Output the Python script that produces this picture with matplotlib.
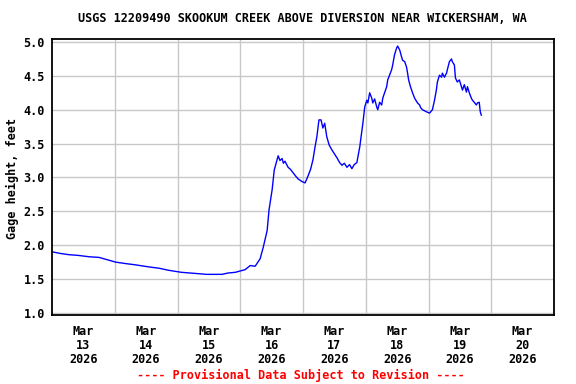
import pandas as pd
import numpy as np
import matplotlib
matplotlib.use('Agg')
import matplotlib.pyplot as plt

# gage height readings, hours after 2026-03-13 00:00
hours = [0.4, 3, 6.5, 10, 14.1, 18, 21.7, 24.4, 28, 32, 37, 41, 44.6, 49.5, 53, 56, 59,
         62.5, 65, 67.4, 70.1, 72, 73.9, 75.8, 77.7, 79.6, 80.8, 82.3, 83.0, 84.2, 85.0,
         86.1, 86.5, 87.2, 88.0, 88.5, 89.1, 90.3, 91.2, 92.2, 93.2, 94.1, 95.6, 96.8,
         97.9, 98.9, 99.8, 100.6, 101.3, 102.1, 102.9, 103.6, 104.3, 105.1, 106.0, 107.0,
         108.0, 109.0, 110.0, 110.9, 111.8, 112.8, 113.8, 114.7, 115.6, 116.6, 117.7,
         118.9, 119.6, 120.4, 120.8, 121.5, 122.3, 122.7, 123.4, 124.2, 124.6, 125.3,
         126.1, 126.5, 127.2, 128.0, 128.4, 129.1, 129.9, 130.3, 131.0, 131.8, 132.2,
         133.0, 133.7, 134.1, 134.9, 135.6, 136.0, 136.4, 137.1, 137.9, 138.7, 139.8,
         140.6, 141.0, 141.7, 143.2, 144.4, 145.5, 146.3, 147.0, 147.4, 148.2, 149.0,
         149.3, 150.1, 150.9, 151.2, 152.0, 152.8, 153.1, 153.9, 154.3, 155.0, 155.8,
         156.6, 157.0, 157.7, 158.5, 158.9, 159.6, 160.4, 160.8, 161.5, 162.3, 162.7,
         163.4, 163.8, 164.2]
gage_ft = [1.90, 1.88, 1.86, 1.85, 1.83, 1.82, 1.78, 1.75, 1.73, 1.71, 1.68, 1.66, 1.63,
           1.60, 1.59, 1.58, 1.57, 1.57, 1.57, 1.59, 1.60, 1.62, 1.64, 1.70, 1.69, 1.80,
           1.97, 2.22, 2.52, 2.82, 3.11, 3.26, 3.32, 3.25, 3.28, 3.21, 3.24, 3.15, 3.12,
           3.07, 3.02, 2.98, 2.94, 2.92, 3.02, 3.12, 3.26, 3.45, 3.60, 3.85, 3.85, 3.73,
           3.80, 3.60, 3.48, 3.41, 3.35, 3.29, 3.22, 3.18, 3.21, 3.15, 3.19, 3.13, 3.19,
           3.22, 3.45, 3.80, 4.04, 4.14, 4.10, 4.25, 4.17, 4.10, 4.16, 4.04, 4.00, 4.11,
           4.07, 4.17, 4.25, 4.34, 4.44, 4.51, 4.59, 4.66, 4.81, 4.91, 4.94, 4.88, 4.78,
           4.73, 4.71, 4.63, 4.54, 4.44, 4.34, 4.25, 4.17, 4.10, 4.07, 4.03, 4.00, 3.97,
           3.95, 4.00, 4.14, 4.29, 4.41, 4.51, 4.48, 4.54, 4.48, 4.54, 4.59, 4.71, 4.75,
           4.71, 4.66, 4.47, 4.41, 4.44, 4.34, 4.29, 4.37, 4.26, 4.34, 4.25, 4.17, 4.14,
           4.11, 4.07, 4.10, 4.11, 3.97, 3.92]

title = 'USGS 12209490 SKOOKUM CREEK ABOVE DIVERSION NEAR WICKERSHAM, WA'
footer = '---- Provisional Data Subject to Revision ----'
days = pd.date_range('2026-03-13', '2026-03-20', freq='D')

start = pd.Timestamp('2026-03-13')
times = start + pd.to_timedelta(hours, unit='h')

font = {'family': 'DejaVu Sans Mono', 'weight': 'bold', 'size': 8.5}

fig = plt.figure(figsize=(5.76, 3.84), dpi=100)
ax = fig.add_axes([52 / 576, 69 / 384, 502 / 576, 276 / 384])

ax.plot(times, gage_ft, color='#0000ff', linewidth=1.0)

ax.set_xlim(start, start + pd.Timedelta(days=8))
ax.set_ylim(0.97, 5.044)

# labels at noon, grid lines at midnight
ax.set_xticks(days + pd.Timedelta(hours=12))
ax.set_xticklabels([f"{d.strftime('%b')}\n{d.day}\n{d.year}" for d in days], fontdict=font,
                   linespacing=1.1)
ax.set_xticks(pd.date_range('2026-03-14', '2026-03-20', freq='D'), minor=True)
ax.set_yticks(np.arange(1.0, 5.01, 0.5))
ax.set_yticklabels([f'{v:.1f}' for v in np.arange(1.0, 5.01, 0.5)], fontdict=font)

ax.tick_params(axis='both', which='both', length=0)
ax.tick_params(axis='x', pad=7)
ax.tick_params(axis='y', pad=5)
ax.grid(True, axis='x', which='minor', color='#c8c8c8', linewidth=1)
ax.grid(True, axis='y', which='major', color='#c8c8c8', linewidth=1)
ax.set_axisbelow(True)
for s in ax.spines.values():
    s.set_linewidth(1.3)
    s.set_color('black')

fig.text(302 / 576, 1 - 19 / 384, title, ha='center', va='center', **font)
fig.text(12 / 576, 1 - 178 / 384, 'Gage height, feet', ha='center', va='center',
         rotation=90, **font)
fig.text(301 / 576, 1 - 375 / 384, footer, ha='center', va='center', color='red', **font)

fig.savefig('out.png', dpi=100)
